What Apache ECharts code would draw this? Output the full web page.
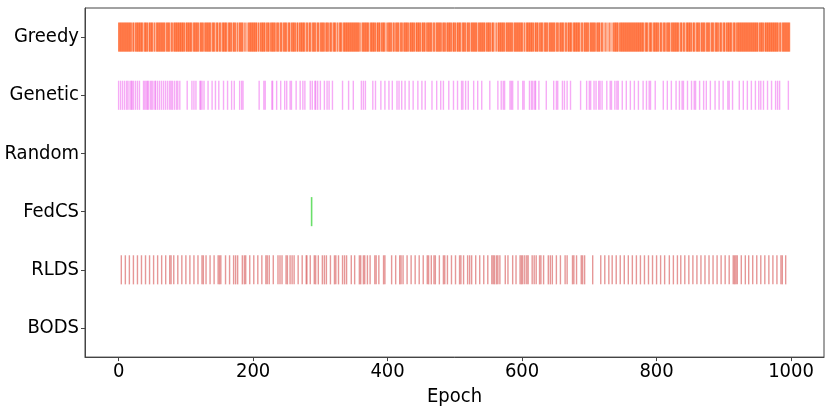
<!DOCTYPE html>
<html>
<head>
<meta charset="utf-8">
<script src="https://cdn.jsdelivr.net/npm/echarts@6/dist/echarts.min.js"></script>
<style>html,body{margin:0;padding:0;background:#fff;}#c{width:831px;height:412px;}</style>
</head>
<body>
<div id="c"></div>
<script>
// y categories, bottom to top
const categories = ['BODS', 'RLDS', 'FedCS', 'Random', 'Genetic', 'Greedy'];
const xTicks = [0, 200, 400, 600, 800, 1000];

// Greedy: selected at every epoch of its range except the gaps
const greedyRange = [0, 998];
const greedyGaps = [20,24,37,44,52,55,70,77,81,99,110,120,127,138,144,149,153,162,169,175,178,186,188,190,192,207,210,219,225,234,239,244,251,256,264,268,278,282,287,294,299,307,313,318,324,327,333,359,361,373,383,390,397,399,407,411,418,423,432,441,450,457,467,471,481,487,496,502,510,517,523,534,546,554,559,561,563,575,587,602,605,618,625,632,639,650,655,663,667,675,687,691,700,710,717,721,723,725,727,729,731,733,735,744,782,788,794,804,809,814,821,834,839,843,853,858,865,873,880,886,893,898,903,913,918,952,960,982,986];

const geneticEpochs = [0,3,6,9,12,14,17,19,20,22,25,28,31,37,39,41,43,44,47,49,51,54,55,58,61,64,67,70,73,76,78,80,83,86,88,91,
  102,109,112,115,121,122,124,127,133,139,144,149,156,162,168,172,180,183,185,
  209,216,218,228,229,235,241,247,250,255,257,264,270,274,277,285,288,292,293,296,300,306,310,313,318,333,
  342,349,361,364,367,378,382,390,396,402,407,414,417,421,426,432,438,445,451,456,466,473,479,483,491,498,504,510,512,516,520,528,534,540,552,564,569,572,574,582,584,586,594,601,603,611,614,616,619,620,625,636,647,651,653,660,663,667,672,
  687,696,700,702,707,710,714,716,719,726,731,733,738,741,743,749,755,761,767,773,780,785,789,791,798,810,816,822,829,834,838,840,846,852,856,858,864,870,874,880,887,893,899,906,908,913,923,929,935,941,947,952,955,959,965,971,977,980,983,996];

const randomEpochs = [];
const fedcsEpochs = [287];

const rldsEpochs = [4,10,16,22,28,34,40,46,52,58,64,70,76,78,82,88,94,100,106,112,118,124,126,130,136,142,148,150,152,159,165,171,174,177,184,187,189,195,201,207,213,219,221,224,230,237,240,243,249,251,255,258,261,267,273,279,280,285,291,293,297,303,306,309,315,321,323,327,333,
  336,339,346,351,358,360,364,366,370,374,381,383,387,394,396,406,412,418,420,423,429,435,441,447,453,459,461,465,469,471,477,483,485,489,495,501,507,509,513,519,522,525,531,537,543,549,555,557,559,562,564,567,575,579,586,591,597,599,601,604,607,609,615,618,621,626,628,632,639,642,645,651,657,664,667,
  675,677,681,688,690,693,705,717,723,729,734,740,746,752,758,764,770,776,782,788,794,800,806,812,819,825,831,836,842,848,854,860,866,872,878,884,890,896,902,908,914,916,918,920,926,932,937,943,949,955,961,967,973,979,985,987,992];

const bodsEpochs = [];

// [colour, opacity, line width]
const seriesStyles = {
  Greedy: ['#FF4500', 0.65, 1],
  Genetic: ['#EE66EE', 0.55, 1.4],
  Random: ['#1f77b4', 0.6, 1.4],
  FedCS: ['#6ADF6A', 1, 1.6],
  RLDS: ['#D95F5F', 0.65, 1.4],
  BODS: ['#1f77b4', 0.6, 1.4]
};

const greedyEpochs = [];
for (let e = greedyRange[0]; e <= greedyRange[1]; e++) {
  if (greedyGaps.indexOf(e) < 0) greedyEpochs.push(e);
}

const eventsByName = {
  Greedy: greedyEpochs,
  Genetic: geneticEpochs,
  Random: randomEpochs,
  FedCS: fedcsEpochs,
  RLDS: rldsEpochs,
  BODS: bodsEpochs
};

const FONT = "'DejaVu Sans Condensed', 'DejaVu Sans'";

function makeSeries(name) {
  const idx = categories.indexOf(name);
  const [color, op, lw] = seriesStyles[name];
  return {
    type: 'custom',
    name: name,
    coordinateSystem: 'cartesian2d',
    encode: { x: 0, y: 1 },
    data: eventsByName[name].map(e => [e, idx]),
    silent: true,
    animation: false,
    renderItem: function (params, api) {
      const p = api.coord([api.value(0), api.value(1)]);
      const h = api.size([0, 1])[1] * 0.25;
      return {
        type: 'line',
        shape: { x1: p[0], y1: p[1] - h, x2: p[0], y2: p[1] + h },
        style: { stroke: color, lineWidth: lw, opacity: op }
      };
    }
  };
}

const chart = echarts.init(document.getElementById('c'), null, { renderer: 'canvas' });
chart.setOption({
  animation: false,
  backgroundColor: '#fff',
  grid: {
    left: 85, right: 7, top: 8, bottom: 37,
    show: true, borderColor: '#444', borderWidth: 1, backgroundColor: 'transparent'
  },
  xAxis: {
    type: 'value',
    min: -50, max: 1049,
    name: 'Epoch',
    nameLocation: 'middle',
    nameGap: 16,
    nameTextStyle: { fontFamily: FONT, fontSize: 20, color: '#000' },
    axisLine: { show: true, onZero: false, lineStyle: { color: '#444', width: 1 } },
    axisTick: { show: true, length: 4, lineStyle: { color: '#444' }, customValues: xTicks },
    axisLabel: { fontFamily: FONT, fontSize: 20, color: '#000', margin: 5, customValues: xTicks, formatter: v => String(v) },
    splitLine: { show: false }
  },
  yAxis: {
    type: 'category',
    data: categories,
    boundaryGap: true,
    axisLine: { show: true, onZero: false, lineStyle: { color: '#444', width: 1 } },
    axisTick: { show: true, length: 4, alignWithLabel: true, interval: 0, lineStyle: { color: '#444' } },
    axisLabel: { fontFamily: FONT, fontSize: 20, color: '#000', margin: 6, interval: 0 },
    splitLine: { show: false }
  },
  series: categories.map(makeSeries)
});
</script>
</body>
</html>
